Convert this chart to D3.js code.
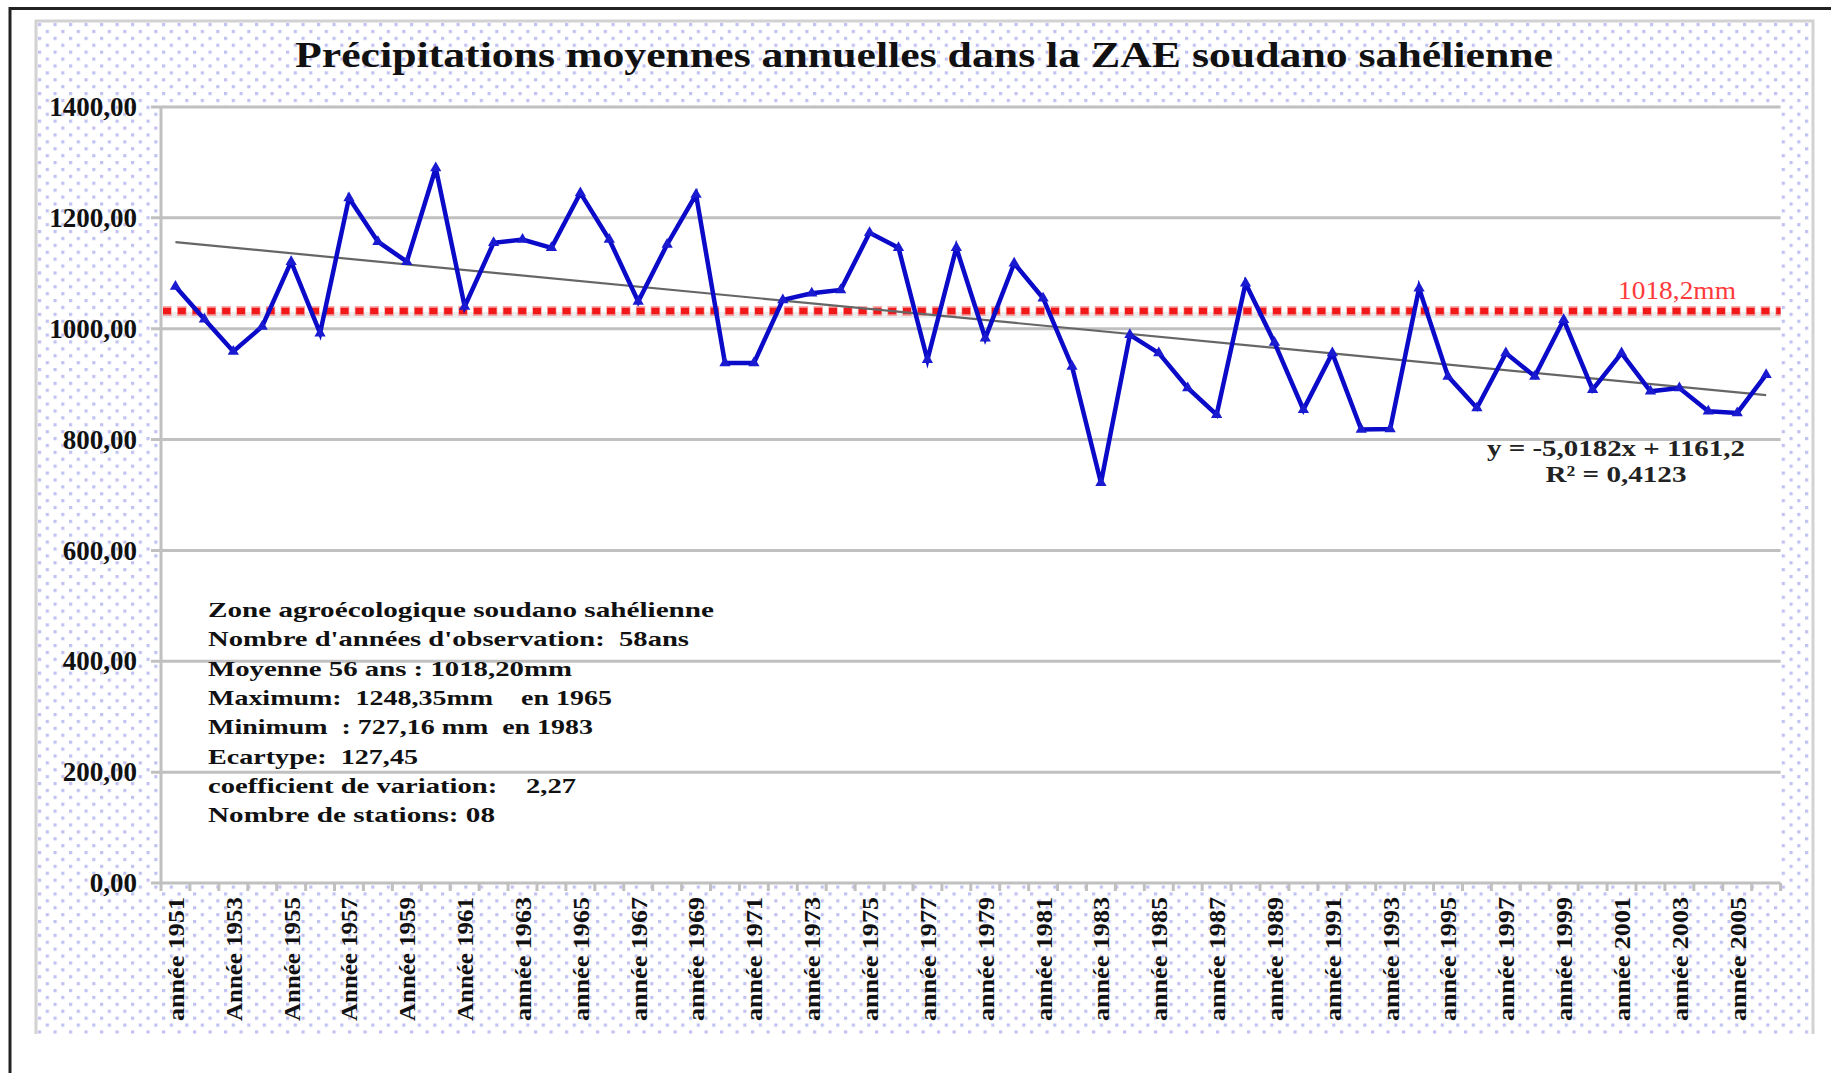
<!DOCTYPE html>
<html>
<head>
<meta charset="utf-8">
<style>
  body { margin: 0; background: #fff; }
  text { font-family: "Liberation Serif", "Times New Roman", serif; }
</style>
</head>
<body>
<svg id="chart"></svg>

<script src="https://cdnjs.cloudflare.com/ajax/libs/d3/7.8.5/d3.min.js"></script>
<script>

  // data
  var years = [1951, 1952, 1953, 1954, 1955, 1956, 1957, 1958, 1959, 1960,
               1961, 1962, 1963, 1964, 1965, 1966, 1967, 1968, 1969, 1970,
               1971, 1972, 1973, 1974, 1975, 1976, 1977, 1978, 1979, 1980,
               1981, 1982, 1983, 1984, 1985, 1986, 1987, 1988, 1989, 1990,
               1991, 1992, 1993, 1994, 1995, 1996, 1997, 1998, 1999, 2000,
               2001, 2002, 2003, 2004, 2005, 2006];

  var rainfall = [1076, 1017, 959, 1004, 1121, 992, 1236, 1157, 1121, 1290,
                  1040, 1155, 1161, 1146, 1245, 1161, 1049, 1152, 1242, 938,
                  938, 1052, 1064, 1070, 1173, 1146, 944, 1146, 983, 1118,
                  1055, 932, 722, 989, 956, 893, 845, 1082, 975, 854,
                  956, 818, 819, 1073, 914, 857, 956, 914, 1016, 890,
                  956, 887, 893, 851, 848, 917];

  var xLabels = ["année 1951", "Année 1953", "Année 1955", "Année 1957", "Année 1959",
                 "Année 1961", "année 1963", "année 1965", "année 1967", "année 1969",
                 "année 1971", "année 1973", "année 1975", "année 1977", "année 1979",
                 "année 1981", "année 1983", "année 1985", "année 1987", "année 1989",
                 "année 1991", "année 1993", "année 1995", "année 1997", "année 1999",
                 "année 2001", "année 2003", "année 2005"];
  var labelYears = [1951, 1953, 1955, 1957, 1959, 1961, 1963, 1965, 1967, 1969,
                    1971, 1973, 1975, 1977, 1979, 1981, 1983, 1985, 1987, 1989,
                    1991, 1993, 1995, 1997, 1999, 2001, 2003, 2005];

  var yTicks = [0, 200, 400, 600, 800, 1000, 1200, 1400];

  var trendSlope     = -5.0182,
      trendIntercept = 1161.2;
  var meanLevel      = 1032;          // where the red dotted line sits in the picture
  var meanLabel      = "1018,2mm";

  var title     = "Précipitations moyennes annuelles dans la ZAE soudano sahélienne";
  var eqLines   = ["y = -5,0182x + 1161,2", "R² = 0,4123"];
  var noteLines = ["Zone agroécologique soudano sahélienne",
                   "Nombre d'années d'observation:  58ans",
                   "Moyenne 56 ans : 1018,20mm",
                   "Maximum:  1248,35mm    en 1965",
                   "Minimum  : 727,16 mm  en 1983",
                   "Ecartype:  127,45",
                   "coefficient de variation:    2,27",
                   "Nombre de stations: 08"];

  // sizes
  var width  = 1831,
      height = 1073,
      plot   = {left: 161, top: 107, right: 1780.6, bottom: 883},
      gridColor = "#c0c0c0";

  var svg = d3.select("#chart")
              .attr("width", width)
              .attr("height", height);

  // dotted background pattern
  var pat = svg.append("defs").append("pattern")
               .attr("id", "dots")
               .attr("patternUnits", "userSpaceOnUse")
               .attr("x", 38).attr("y", 23)
               .attr("width", 15.5).attr("height", 13.8);
  pat.append("rect").attr("x", 0).attr("y", 0).attr("width", 3.2).attr("height", 3.2).attr("fill", "#c2c2f2");
  pat.append("rect").attr("x", 7.75).attr("y", 6.9).attr("width", 3.2).attr("height", 3.2).attr("fill", "#c2c2f2");

  // outer black frame (top and left)
  svg.append("line").attr("x1", 9).attr("x2", width).attr("y1", 8.5).attr("y2", 8.5)
     .attr("stroke", "#222").attr("stroke-width", 3);
  svg.append("line").attr("x1", 10).attr("x2", 10).attr("y1", 7).attr("y2", height)
     .attr("stroke", "#222").attr("stroke-width", 3);

  // chart area
  svg.append("rect").attr("x", 36).attr("y", 21).attr("width", 1777).attr("height", 1013)
     .attr("fill", "url(#dots)");
  svg.append("path").attr("d", "M36,1034V21H1813V1034")
     .attr("fill", "none").attr("stroke", "#d2d2d2").attr("stroke-width", 3);

  // plot area
  svg.append("rect").attr("x", plot.left).attr("y", plot.top)
     .attr("width", plot.right - plot.left).attr("height", plot.bottom - plot.top)
     .attr("fill", "#fff");

  var x = d3.scaleBand().domain(years).range([plot.left, plot.right]);
  var y = d3.scaleLinear().domain([0, 1400]).range([plot.bottom, plot.top]);
  var cx = function(yr) { return x(yr) + x.bandwidth() / 2; };

  var fr = d3.formatLocale({decimal: ",", thousands: "", grouping: [3], currency: ["", ""]});
  var fmt = fr.format(".2f");

  // gridlines
  svg.append("g").selectAll("line").data(yTicks).enter().append("line")
     .attr("x1", plot.left - 10).attr("x2", plot.right)
     .attr("y1", function(d) { return y(d); }).attr("y2", function(d) { return y(d); })
     .attr("stroke", gridColor).attr("stroke-width", 3);

  // left border
  svg.append("line").attr("x1", plot.left).attr("x2", plot.left)
     .attr("y1", plot.top).attr("y2", plot.bottom + 1)
     .attr("stroke", gridColor).attr("stroke-width", 3);

  // y axis labels
  var yAxis = d3.axisLeft(y).tickValues(yTicks).tickFormat(fmt).tickSize(0).tickPadding(24);
  var gy = svg.append("g").attr("transform", "translate(" + plot.left + ",0)").call(yAxis);
  gy.select(".domain").remove();
  gy.selectAll("text")
    .attr("font-family", "Liberation Serif")
    .attr("font-size", 27).attr("font-weight", "bold").attr("fill", "#111");

  // x axis ticks at band boundaries
  var bounds = years.map(function(d) { return x(d); }).concat([plot.right]);
  svg.append("g").selectAll("line").data(bounds).enter().append("line")
     .attr("x1", function(d) { return d; }).attr("x2", function(d) { return d; })
     .attr("y1", plot.bottom).attr("y2", plot.bottom + 8)
     .attr("stroke", gridColor).attr("stroke-width", 3);

  // x labels, rotated
  svg.append("g").selectAll("text").data(labelYears).enter().append("text")
     .attr("transform", function(d) { return "translate(" + cx(d) + "," + 897 + ") rotate(-90)"; })
     .attr("text-anchor", "end")
     .attr("dy", "0.35em")
     .attr("font-size", 24).attr("font-weight", "bold").attr("fill", "#111")
     .attr("textLength", 124).attr("lengthAdjust", "spacingAndGlyphs")
     .text(function(d, i) { return xLabels[i]; });

  // red mean line, with its pale halo and shadow
  svg.append("line").attr("x1", plot.left + 2).attr("x2", plot.right)
     .attr("y1", y(meanLevel) + 4).attr("y2", y(meanLevel) + 4)
     .attr("stroke", "#ececec").attr("stroke-width", 6);
  svg.append("line").attr("x1", plot.left + 2).attr("x2", plot.right)
     .attr("y1", y(meanLevel)).attr("y2", y(meanLevel))
     .attr("stroke", "#f47878").attr("stroke-width", 10).attr("stroke-opacity", 0.6)
     .attr("stroke-dasharray", "9.5,5.3").attr("stroke-dashoffset", 0.75);
  svg.append("line").attr("x1", plot.left + 2).attr("x2", plot.right)
     .attr("y1", y(meanLevel)).attr("y2", y(meanLevel))
     .attr("stroke", "#f01818").attr("stroke-width", 6.5)
     .attr("stroke-dasharray", "8,6.8");

  svg.append("text").attr("x", 1618).attr("y", y(meanLevel) - 12)
     .attr("font-size", 26).attr("fill", "#ff3a3a")
     .attr("textLength", 118).attr("lengthAdjust", "spacingAndGlyphs")
     .text(meanLabel);

  // trend line
  var first = years[0], last = years[years.length - 1];
  svg.append("line")
     .attr("x1", cx(first)).attr("y1", y(trendSlope * 1 + trendIntercept))
     .attr("x2", cx(last)).attr("y2", y(trendSlope * years.length + trendIntercept))
     .attr("stroke", "#666").attr("stroke-width", 2.2);

  // data line
  var line = d3.line()
               .x(function(d, i) { return cx(years[i]); })
               .y(function(d) { return y(d); });
  svg.append("path").datum(rainfall)
     .attr("d", line)
     .attr("fill", "none").attr("stroke", "#0a0ac8").attr("stroke-width", 4.5)
     .attr("stroke-linejoin", "miter");

  svg.append("g").selectAll("path").data(rainfall).enter().append("path")
     .attr("transform", function(d, i) { return "translate(" + cx(years[i]) + "," + y(d) + ")"; })
     .attr("d", d3.symbol().type(d3.symbolTriangle).size(55))
     .attr("fill", "#1a1ad0");

  // title
  svg.append("text").attr("x", 924).attr("y", 67)
     .attr("text-anchor", "middle")
     .attr("font-size", 35).attr("font-weight", "bold").attr("fill", "#111")
     .attr("textLength", 1258).attr("lengthAdjust", "spacingAndGlyphs")
     .text(title);

  // regression equation
  var eqWidths = [258, 141];
  svg.append("g").selectAll("text").data(eqLines).enter().append("text")
     .attr("x", 1616).attr("y", function(d, i) { return 456 + i * 26; })
     .attr("text-anchor", "middle")
     .attr("font-size", 23).attr("font-weight", "bold").attr("fill", "#222")
     .attr("textLength", function(d, i) { return eqWidths[i]; })
     .attr("lengthAdjust", "spacingAndGlyphs")
     .text(function(d) { return d; });

  // statistics note
  var noteWidths = [506, 481, 364, 404, 385, 210, 368, 287];
  svg.append("g").selectAll("text").data(noteLines).enter().append("text")
     .attr("x", 208).attr("y", function(d, i) { return 617 + i * 29.3; })
     .attr("font-size", 22).attr("font-weight", "bold").attr("fill", "#111")
     .style("white-space", "pre")
     .attr("textLength", function(d, i) { return noteWidths[i]; })
     .attr("lengthAdjust", "spacingAndGlyphs")
     .text(function(d) { return d; });

</script>
</body>
</html>
